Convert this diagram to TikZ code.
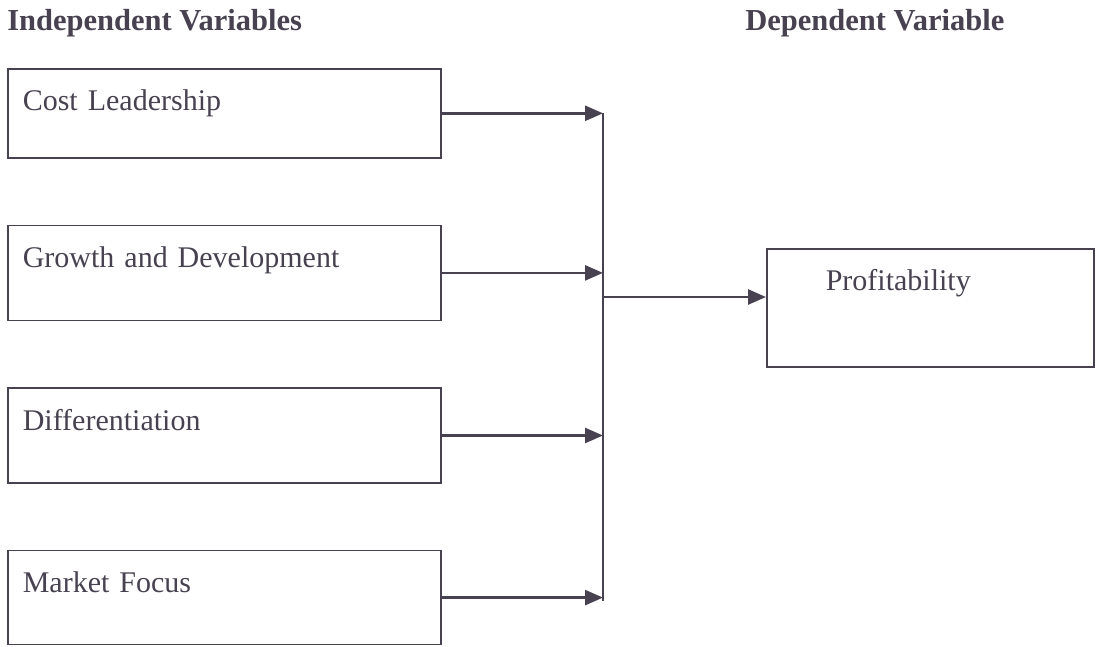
\documentclass[tikz,border=0pt]{standalone}
\usepackage{fontspec}
\setmainfont{Liberation Serif}
\usetikzlibrary{positioning,arrows.meta}
\definecolor{ink}{RGB}{72,66,80}

\begin{document}
\begin{tikzpicture}[x=1pt,y=-1pt,->,>={Triangle[length=18pt,width=15pt]},line width=2.6pt,color=ink,node distance=66pt]
\tikzstyle{every node}=[font=\fontsize{30}{36}\selectfont,text=ink]
\tikzstyle{heading}=[font=\fontsize{30.5}{36}\selectfont\bfseries,inner sep=0pt,anchor=base west]
\tikzstyle{var}=[draw=ink,line width=1.6pt,anchor=north west,inner xsep=15pt,inner ysep=0pt,text height=42pt,text depth=53pt,text width=403pt,align=left]
\useasboundingbox (0,0) rectangle (1096,647);
\node[heading] (indep) at (6,31) {Independent Variables};
\node[heading] (dep) at (744,31) {Dependent Variable};
\node[var,text depth=47pt] (cost) at (7,68) {Cost Leadership};
\node[var][below=of cost](growth){Growth and Development};
\node[var][below=of growth](diff){Differentiation};
\node[var,text depth=52pt][below=of diff](focus){Market Focus};
\node[var,text width=209pt,inner xsep=59pt,text depth=76pt] (profit) at (766,248) {Profitability};
\coordinate (bus) at (603,0);
\coordinate (split) at (603,297);
\foreach \n in {cost,growth,diff,focus}
  \draw (\n.east) -- (\n.east -| bus);
\draw[-] (cost.east -| bus) -- (focus.east -| bus) -- ++(0,3);
\draw (split) -- (split -| profit.west);
\end{tikzpicture}
\end{document}
